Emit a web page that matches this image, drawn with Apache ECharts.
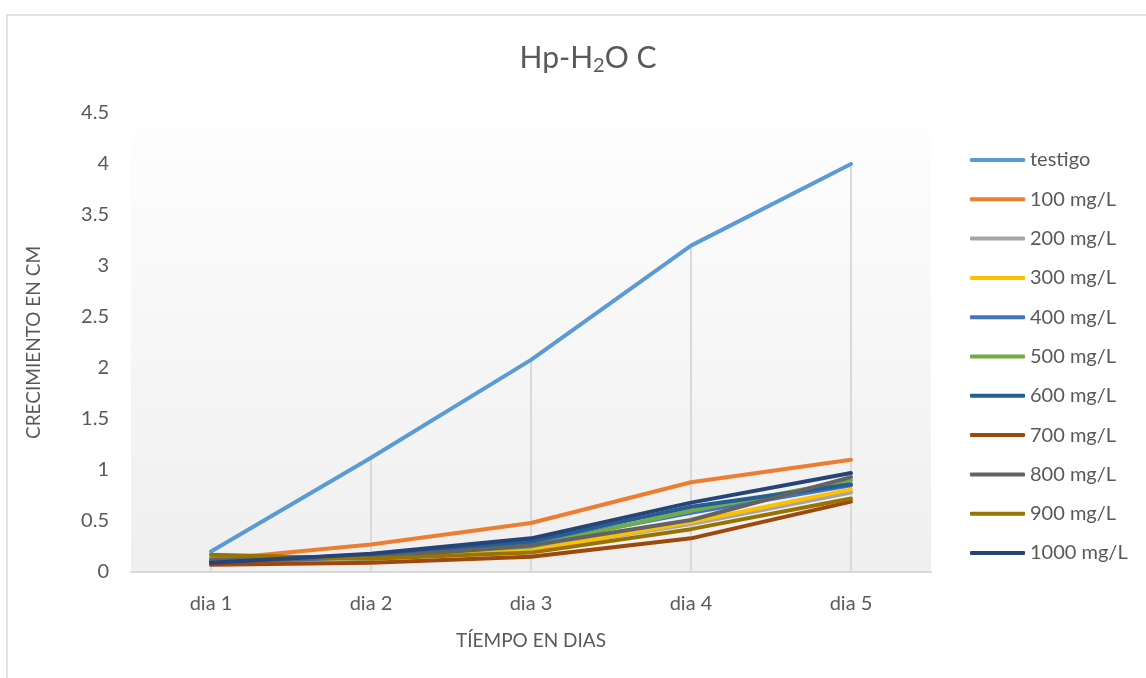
<!DOCTYPE html>
<html>
<head>
<meta charset="utf-8">
<script src="https://cdn.jsdelivr.net/npm/echarts@6/dist/echarts.min.js"></script>
<style>
html, body { margin: 0; padding: 0; background: #fff; }
#chart { width: 1146px; height: 678px; }
</style>
</head>
<body>
<div id="chart"></div>
<script>
// datos
var dias = ['dia 1', 'dia 2', 'dia 3', 'dia 4', 'dia 5'];
var nombres = ['testigo', '100 mg/L', '200 mg/L', '300 mg/L', '400 mg/L', '500 mg/L',
	'600 mg/L', '700 mg/L', '800 mg/L', '900 mg/L', '1000 mg/L'];
var colores = ['#5B9BD5', '#ED7D31', '#A5A5A5', '#FFC000', '#4472C4', '#70AD47',
	'#255E91', '#9E480E', '#636363', '#997300', '#264478'];

var testigo = [0.2, 1.12, 2.08, 3.2, 4.0];
var mg100 = [0.12, 0.27, 0.48, 0.88, 1.10];
var mg200 = [0.10, 0.13, 0.22, 0.47, 0.78];
var mg300 = [0.11, 0.14, 0.21, 0.49, 0.81];
var mg400 = [0.09, 0.15, 0.28, 0.58, 0.85];
var mg500 = [0.14, 0.15, 0.25, 0.60, 0.90];
var mg600 = [0.10, 0.17, 0.30, 0.64, 0.86];
var mg700 = [0.07, 0.09, 0.15, 0.33, 0.69];
var mg800 = [0.12, 0.14, 0.26, 0.51, 0.93];
var mg900 = [0.17, 0.13, 0.19, 0.42, 0.72];
var mg1000 = [0.09, 0.18, 0.33, 0.68, 0.97];

var valores = [testigo, mg100, mg200, mg300, mg400, mg500, mg600, mg700, mg800, mg900, mg1000];

// lineas de caida: desde el punto mas alto de cada dia hasta el eje
var maximos = dias.map(function (d, i) {
	return Math.max.apply(null, valores.map(function (v) { return v[i]; }));
});

var fuente = 'Lato';
var gris = '#595959';

var series = [{
	name: 'caida',
	type: 'bar',
	barWidth: 2,
	silent: true,
	z: 1,
	itemStyle: { color: '#d9d9d9' },
	data: maximos
}];
valores.forEach(function (v, k) {
	series.push({
		name: nombres[k],
		type: 'line',
		symbol: 'none',
		z: 2 + k,
		lineStyle: { width: 4, color: colores[k], cap: 'round', join: 'round' },
		itemStyle: { color: colores[k] },
		data: v
	});
});

var myChart = echarts.init(document.getElementById('chart'));
myChart.setOption({
	animation: false,
	textStyle: { fontFamily: fuente },
	title: {
		text: 'Hp-H{s|2}O C',
		left: 583,
		textAlign: 'center',
		top: 35,
		textStyle: {
			fontFamily: fuente, fontSize: 30, fontWeight: 'normal', color: gris,
			rich: { s: { fontFamily: fuente, fontSize: 20, color: gris, padding: [16, 0, 0, 0] } }
		}
	},
	graphic: [{
		type: 'rect',
		shape: { x: 7, y: 15, width: 1160, height: 700 },
		style: { fill: 'none', stroke: '#d9d9d9', lineWidth: 1.5 },
		silent: true
	}],
	legend: {
		orient: 'vertical',
		left: 970,
		top: 150,
		padding: 0,
		icon: 'roundRect',
		itemWidth: 55,
		itemHeight: 4,
		itemGap: 19.3,
		data: nombres,
		textStyle: { fontFamily: fuente, fontSize: 20, color: gris, lineHeight: 20 }
	},
	grid: {
		left: 131, right: 215, top: 113, bottom: 106,
		show: true,
		borderWidth: 0,
		backgroundColor: {
			type: 'linear', x: 0, y: 0, x2: 0, y2: 1,
			colorStops: [
				{ offset: 0, color: '#ffffff' },
				{ offset: 0.12, color: '#fcfcfc' },
				{ offset: 1, color: '#efefef' }
			]
		}
	},
	xAxis: {
		type: 'category',
		data: dias,
		boundaryGap: true,
		name: 'TÍEMPO EN DIAS',
		nameLocation: 'middle',
		nameGap: 59,
		nameTextStyle: { fontFamily: fuente, fontSize: 19, color: gris },
		axisLine: { lineStyle: { color: '#d9d9d9', width: 2 } },
		axisTick: { show: false },
		axisLabel: { margin: 22, fontFamily: fuente, fontSize: 20, color: gris },
		splitLine: { show: false }
	},
	yAxis: {
		type: 'value',
		min: 0,
		max: 4.5,
		interval: 0.5,
		name: 'CRECIMIENTO EN CM',
		nameLocation: 'middle',
		nameRotate: 90,
		nameGap: 88,
		nameTextStyle: { fontFamily: fuente, fontSize: 19, color: gris },
		axisLine: { show: false },
		axisTick: { show: false },
		axisLabel: { margin: 22, fontFamily: fuente, fontSize: 20, color: gris },
		splitLine: { show: false }
	},
	series: series
});
</script>
</body>
</html>
